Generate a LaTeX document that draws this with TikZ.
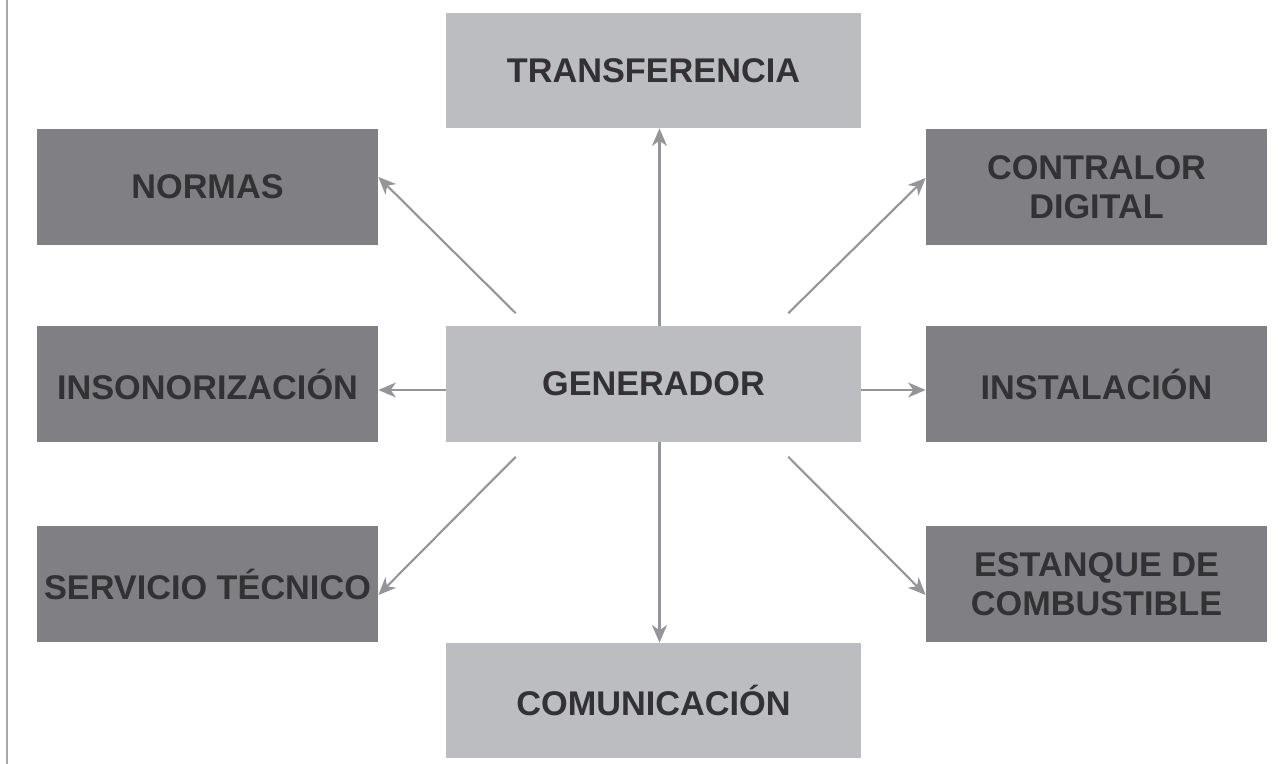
\documentclass[tikz,border=0pt]{standalone}
\usepackage{fontspec}
\setmainfont{Liberation Sans}
\usetikzlibrary{arrows.meta}

\definecolor{lightgrey}{HTML}{BCBDC1}
\definecolor{darkgrey}{HTML}{808084}
\definecolor{textgrey}{HTML}{323133}
\definecolor{arrowgrey}{HTML}{939598}
\definecolor{rulegrey}{HTML}{A7A9AC}

\tikzset{
  box/.style={inner sep=0pt, align=center, text=textgrey,
    font=\fontsize{19.5}{22.2}\selectfont\bfseries},
  lightbox/.style={box, fill=lightgrey, minimum width=8.3cm, minimum height=2.3cm},
  darkbox/.style={box, fill=darkgrey, minimum width=6.82cm, minimum height=2.32cm},
  arr/.style={draw=arrowgrey, line width=1.2pt,
    -{Stealth[length=10pt, width=8.5pt, inset=3pt]}}
}

\begin{document}
\begin{tikzpicture}
                    \useasboundingbox (0,0) rectangle (25.7,-15.28);
                    % Left rule
                    \draw[rulegrey, line width=1.4pt] (0.14,0) -- (0.14,-15.28);

                    % Centre column
                    \node[lightbox] (transf) at (13.07, -1.41) {TRANSFERENCIA};
                    \node[lightbox] (gen) at (13.07, -7.68) {GENERADOR};
                    \node[lightbox] (comun) at (13.07, -14.01) {COMUNICACIÓN};

                    % Left column
                    \node[darkbox] (normas) at (4.15, -3.74) {NORMAS};
                    \node[darkbox] (insonor) at (4.15, -7.68) {INSONORIZACIÓN};
                    \node[darkbox] (servicio) at (4.15, -11.68) {SERVICIO TÉCNICO};

                    % Right column
                    \node[darkbox] (contralor) at (21.93, -3.74) {CONTRALOR\\DIGITAL};
                    \node[darkbox] (instal) at (21.93, -7.68) {INSTALACIÓN};
                    \node[darkbox] (estanque) at (21.93, -11.68) {ESTANQUE DE\\COMBUSTIBLE};

                    % Arrows
                    \draw[arr] ([xshift=0.12cm]gen.north) -- ([xshift=0.12cm]transf.south);
                    \draw[arr] ([xshift=0.12cm]gen.south) -- ([xshift=0.12cm]comun.north);
                    \draw[arr] ([yshift=-0.12cm]gen.west) -- ([yshift=-0.12cm]insonor.east);
                    \draw[arr] ([yshift=-0.12cm]gen.east) -- ([yshift=-0.12cm]instal.west);
                    \draw[arr] ([shift={(1.4,0.26)}]gen.north west) -- ([yshift=0.2cm]normas.east);
                    \draw[arr] ([shift={(-1.46,0.26)}]gen.north east) -- ([yshift=0.18cm]contralor.west);
                    \draw[arr] ([shift={(1.4,-0.3)}]gen.south west) -- ([yshift=-0.22cm]servicio.east);
                    \draw[arr] ([shift={(-1.46,-0.3)}]gen.south east) -- ([yshift=-0.22cm]estanque.west);
\end{tikzpicture}
\end{document}
